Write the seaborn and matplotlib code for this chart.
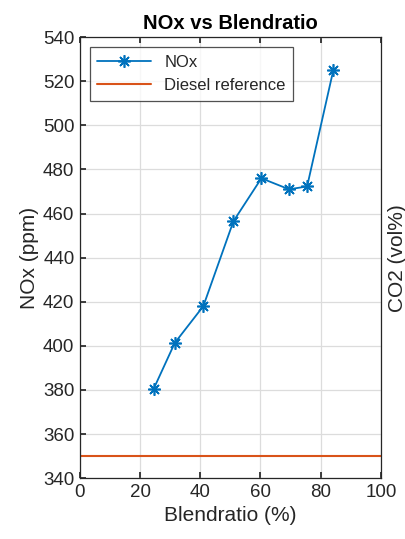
import matplotlib
matplotlib.use("Agg")
import matplotlib.pyplot as plt
import seaborn as sns
import pandas as pd

blend = [24.5, 31.5, 41, 51, 60.3, 69.5, 75.5, 84.2]
nox = [380.5, 401.3, 418, 456.5, 476, 471, 472.3, 525]
diesel_x = [0.5, 100]
diesel_y = [350, 350]

sns.set_theme(style="whitegrid")
plt.rcParams['font.family'] = ['Liberation Sans', 'DejaVu Sans']

fig = plt.figure(figsize=(4.06, 5.39), dpi=100)
ax = fig.add_axes([0.197, 0.113, 0.741, 0.818])

df = pd.DataFrame({"x": blend, "y": nox})
dd = pd.DataFrame({"x": diesel_x, "y": diesel_y})
sns.lineplot(data=df, x="x", y="y", ax=ax, color="#0072BD", marker=(8, 2, 0),
             markersize=9, markeredgewidth=1.2, markeredgecolor="#0072BD",
             linewidth=1.3, label="NOx")
sns.lineplot(data=dd, x="x", y="y", ax=ax, color="#D95319", linewidth=1.5,
             label="Diesel reference")

ax.set_xlim(0, 100)
ax.set_ylim(340, 540)
ax.set_xticks(range(0, 101, 20))
ax.set_yticks(range(340, 541, 20))
ax.grid(True, color="#dcdcdc", linewidth=0.9)
ax.set_facecolor("white")
for s in ax.spines.values():
    s.set_color("#262626")
    s.set_linewidth(0.9)
ax.tick_params(direction="in", length=4, color="#262626", labelsize=13.5,
               labelcolor="#262626", top=True, right=True, bottom=True, left=True, pad=4)
ax.set_xlabel("Blendratio (%)", fontsize=15, color="#262626", labelpad=4)
ax.set_ylabel("NOx (ppm)", fontsize=15, color="#262626", labelpad=3)
ax.set_title("NOx vs Blendratio", fontsize=14.5, fontweight="bold", color="#000000", pad=6)

ax2 = ax.twinx()
ax2.set_yticks([])
ax2.set_ylabel("CO2 (vol%)", fontsize=15, color="#262626", labelpad=5)
ax2.grid(False)
for s in ax2.spines.values():
    s.set_visible(False)

leg = ax.legend(loc="upper left", fontsize=12, frameon=True, fancybox=False,
                edgecolor="#262626", borderaxespad=0.6, handlelength=3.2,
                borderpad=0.45, labelspacing=0.5)
leg.get_frame().set_linewidth(0.9)

fig.savefig("out.png", dpi=100)
